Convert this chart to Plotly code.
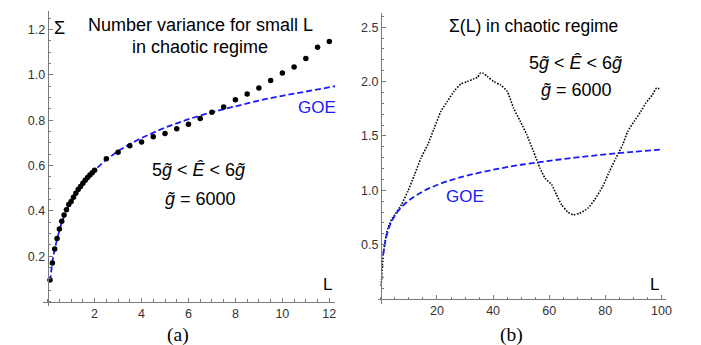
import plotly.graph_objects as go

W, H = 701, 345

# ---------------- data: panel (a) ----------------
L_a = [0.1, 0.2, 0.3, 0.4, 0.5, 0.6, 0.7, 0.8, 0.9, 1.0,
       1.1, 1.2, 1.3, 1.4, 1.5, 1.6, 1.7, 1.8, 1.9, 2.0,
       2.5, 3.0, 3.5, 4.0, 4.5, 5.0, 5.5, 6.0, 6.5, 7.0,
       7.5, 8.0, 8.5, 9.0, 9.5, 10.0, 10.5, 11.0, 11.5, 12.0]
sigma_a = [0.095, 0.17, 0.232, 0.278, 0.32, 0.354, 0.382, 0.405, 0.428, 0.442,
           0.46, 0.478, 0.494, 0.508, 0.522, 0.535, 0.547, 0.558, 0.568, 0.58,
           0.63, 0.659, 0.688, 0.704, 0.727, 0.742, 0.763, 0.782, 0.808, 0.835,
           0.858, 0.891, 0.916, 0.942, 0.975, 1.008, 1.035, 1.073, 1.122, 1.147]

L_goe_a = [0.1, 0.15, 0.2, 0.3, 0.4, 0.5, 0.6, 0.7, 0.8, 0.9, 1.0, 1.2, 1.4, 1.6,
           1.8, 2.0, 2.5, 3.0, 3.5, 4.0, 5.0, 6.0, 7.0, 8.0, 9.0, 10.0, 11.0, 12.0, 12.25]
goe_a = [0.09, 0.135, 0.175, 0.232, 0.277, 0.315, 0.349, 0.378, 0.403, 0.424, 0.442,
         0.475, 0.504, 0.531, 0.557, 0.58, 0.626, 0.664, 0.695, 0.722, 0.768, 0.805,
         0.836, 0.863, 0.887, 0.908, 0.928, 0.945, 0.95]

# ---------------- data: panel (b) ----------------
L_b = [0.1, 0.3, 0.5, 1.0, 1.5, 2.5, 4.0, 5.0, 7.3, 9.6, 12.0, 14.3, 16.7, 19.0,
       21.4, 23.7, 26.1, 28.5, 30.8, 33.2, 34.5, 35.5, 36.5, 37.9, 40.2, 42.6, 45.0,
       47.3, 49.7, 52.0, 54.4, 56.7, 58.5, 60.9, 62.6, 64.4, 66.7, 68.5, 70.9, 73.8,
       76.2, 79.1, 81.5, 83.8, 86.2, 88.0, 90.3, 92.7, 94.4, 96.8, 98.3, 99.7]
sigma_b = [0.12, 0.2, 0.3, 0.44, 0.53, 0.653, 0.74, 0.776, 0.868, 0.99, 1.143, 1.297,
           1.42, 1.57, 1.726, 1.818, 1.91, 1.977, 2.0, 2.026, 2.04, 2.078, 2.075, 2.048,
           2.0, 1.97, 1.91, 1.756, 1.634, 1.511, 1.358, 1.205, 1.113, 1.051, 0.96, 0.868,
           0.8, 0.776, 0.79, 0.837, 0.914, 1.037, 1.175, 1.297, 1.42, 1.542, 1.634, 1.726,
           1.8, 1.879, 1.94, 1.93]

L_goe_b = [0.8, 1.0, 1.5, 2.0, 3.0, 4.0, 5.0, 7.0, 10.0, 15.0, 20.0, 25.0, 30.0, 40.0,
           50.0, 60.0, 70.0, 80.0, 90.0, 100.0]
goe_b = [0.403, 0.442, 0.518, 0.58, 0.664, 0.722, 0.768, 0.836, 0.908, 0.99, 1.049,
         1.094, 1.131, 1.189, 1.235, 1.271, 1.303, 1.33, 1.354, 1.375]

xt_a = [2, 4, 6, 8, 10, 12]
yt_a = [0.2, 0.4, 0.6, 0.8, 1.0, 1.2]
xt_b = [20, 40, 60, 80, 100]
yt_b = [0.5, 1.0, 1.5, 2.0, 2.5]


def px_x(p):
    return p / W


def px_y(p):
    return 1 - p / H


AXIS_COL = "#7a7a7a"
TICK_FONT = dict(family="Liberation Sans, Arial, sans-serif", size=12.5, color="#333333")
BLUE = "#1a1aff"

fig = go.Figure()

fig.add_trace(go.Scatter(x=L_goe_a, y=goe_a, mode="lines",
                         line=dict(color=BLUE, width=1.8, dash="6px,3px"),
                         xaxis="x", yaxis="y", hoverinfo="skip"))
fig.add_trace(go.Scatter(x=L_a, y=sigma_a, mode="markers",
                         marker=dict(color="black", size=5.5),
                         xaxis="x", yaxis="y"))

fig.add_trace(go.Scatter(x=L_b, y=sigma_b, mode="lines",
                         line=dict(color="black", width=1.6, dash="1.5px,1.5px", shape="spline", smoothing=0.6),
                         xaxis="x2", yaxis="y2"))
fig.add_trace(go.Scatter(x=L_goe_b, y=goe_b, mode="lines",
                         line=dict(color=BLUE, width=1.8, dash="6px,3px", shape="spline"),
                         xaxis="x2", yaxis="y2", hoverinfo="skip"))


def axis_common():
    return dict(showline=True, linecolor=AXIS_COL, linewidth=1, showgrid=False, zeroline=False,
                ticks="inside", ticklen=4, tickwidth=1, tickcolor=AXIS_COL,
                tickfont=TICK_FONT, tickmode="array")


# panel a axes
xa = axis_common()
xa.update(domain=[px_x(35), px_x(330)], range=[-0.211, 12.25], tickvals=xt_a,
          anchor="free", position=px_y(293.6),
          minor=dict(dtick=0.5, tick0=0, ticks="inside", ticklen=2.5, tickcolor=AXIS_COL))
ya = axis_common()
ya.update(domain=[px_y(298), px_y(3)], range=[-0.0194, 1.282], tickvals=yt_a,
          ticktext=["0.2", "0.4", "0.6", "0.8", "1.0", "1.2"],
          anchor="free", position=px_x(40),
          minor=dict(dtick=0.05, tick0=0, ticks="inside", ticklen=2.5, tickcolor=AXIS_COL))

# panel b axes
xb = axis_common()
xb.update(domain=[px_x(372.7), px_x(663.3)], range=[-1.2, 101.5], tickvals=xt_b,
          anchor="free", position=px_y(291.1),
          minor=dict(dtick=5, tick0=0, ticks="inside", ticklen=2.5, tickcolor=AXIS_COL))
yb = axis_common()
yb.update(domain=[px_y(296), px_y(5)], range=[-0.045, 2.63], tickvals=yt_b,
          ticktext=["0.5", "1.0", "1.5", "2.0", "2.5"],
          anchor="free", position=px_x(376.1),
          minor=dict(dtick=0.1, tick0=0, ticks="inside", ticklen=2.5, tickcolor=AXIS_COL))

SANS = "Liberation Sans, Arial, sans-serif"
SERIF = "Liberation Serif, Times New Roman, serif"


def ann(text, x, y, size=17.5, color="black", family=SANS):
    return dict(text=text, x=px_x(x), y=px_y(y), xref="paper", yref="paper",
                showarrow=False, xanchor="center", yanchor="middle",
                font=dict(family=family, size=size, color=color))


annotations = [
    ann("Σ", 52, 20, 18),
    ann("Number variance for small L", 193.7, 16.7, 18),
    ann("in chaotic regime", 193.5, 39.3, 18),
    ann("GOE", 312, 100, 17, BLUE),
    ann("5<i>g\u0303</i> &lt; <i>Ê</i> &lt; 6<i>g\u0303</i>", 192.5, 161.7, 18),
    ann("<i>g\u0303</i> = 6000", 193.8, 190.7, 18),
    ann("L", 322.7, 276, 17),
    ann("Σ(L) in chaotic regime", 530, 18.3),
    ann("5<i>g\u0303</i> &lt; <i>Ê</i> &lt; 6<i>g\u0303</i>", 572.5, 55, 18),
    ann("<i>g\u0303</i> = 6000", 573.3, 81.7, 18),
    ann("GOE", 460.8, 188.3, 17, BLUE),
    ann("L", 651.7, 276, 17),
    ann("(a)", 171, 326.5, 19.5, family=SERIF),
    ann("(b)", 507.5, 326.5, 19.5, family=SERIF),
]

fig.update_layout(
    width=W, height=H, margin=dict(l=0, r=0, t=0, b=0),
    paper_bgcolor="white", plot_bgcolor="white", showlegend=False,
    xaxis=xa, yaxis=ya, xaxis2=xb, yaxis2=yb,
    annotations=annotations,
)

fig.write_html("out.html")
